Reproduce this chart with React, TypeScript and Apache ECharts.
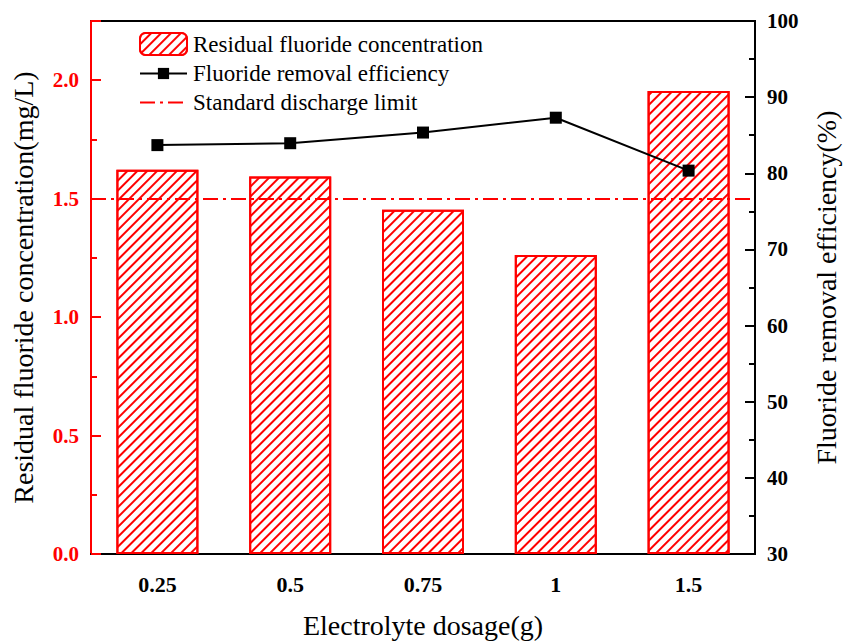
import React, { useEffect, useRef } from "react";
import * as echarts from "echarts";

const categories = ["0.25", "0.5", "0.75", "1", "1.5"];
const residualConcentration = [1.622, 1.594, 1.453, 1.262, 1.954];
const removalEfficiency = [83.7, 83.95, 85.35, 87.3, 80.35];
const dischargeLimit = 1.5;
const leftTicks = { min: 0, max: 2.25, interval: 0.5 };
const rightTicks = { min: 30, max: 100, interval: 10 };

const FONT = "'Liberation Serif', 'Times New Roman', serif";
const RED = "#ff0000";

export default function App() {
  const ref = useRef<HTMLDivElement>(null);
  useEffect(() => {
    if (!ref.current) return;
    const chart = echarts.init(ref.current, null, { renderer: "svg" });
    const dash = [15, 5, 3, 5];
    const legendText = { fontFamily: FONT, fontSize: 23, color: "#000", padding: [0, 0, 0, 1] };
    chart.setOption({
      animation: false,
      backgroundColor: "#fff",
      textStyle: { fontFamily: FONT },
      grid: {
        left: 91,
        right: 83,
        top: 21,
        bottom: 80,
        show: true,
        borderColor: "#000",
        borderWidth: 2,
        containLabel: false,
      },
      legend: [
        {
          orient: "vertical",
          left: 139,
          top: 32,
          padding: 0,
          itemWidth: 47,
          itemHeight: 22,
          textStyle: legendText,
          data: ["Residual fluoride concentration"],
        },
        {
          orient: "vertical",
          left: 139,
          top: 62,
          padding: 0,
          itemWidth: 47,
          itemHeight: 14,
          itemGap: 6,
          textStyle: legendText,
          data: [
            "Fluoride removal efficiency",
            { name: "Standard discharge limit", itemStyle: { opacity: 0 } },
          ],
        },
      ],
      xAxis: {
        type: "category",
        data: categories,
        axisLine: { lineStyle: { color: "#000", width: 2 } },
        axisTick: { show: false },
        axisLabel: {
          fontFamily: FONT,
          fontSize: 22,
          fontWeight: "bold",
          color: "#000",
          margin: 19,
        },
        name: "Electrolyte dosage(g)",
        nameLocation: "middle",
        nameGap: 57,
        nameTextStyle: { fontFamily: FONT, fontSize: 28, color: "#000" },
      },
      yAxis: [
        {
          type: "value",
          min: leftTicks.min,
          max: leftTicks.max,
          interval: leftTicks.interval,
          position: "left",
          axisLine: { show: true, lineStyle: { color: RED, width: 2 } },
          axisTick: { show: true, inside: true, length: 10, lineStyle: { color: RED, width: 2 } },
          minorTick: { show: true, splitNumber: 2, length: 6, lineStyle: { color: RED, width: 2 } },
          splitLine: { show: false },
          axisLabel: {
            fontFamily: FONT,
            fontSize: 21,
            fontWeight: "bold",
            color: RED,
            margin: 12,
            formatter: (v: number) => (v > 2.01 ? "" : v.toFixed(1)),
          },
          name: "Residual fluoride concentration(mg/L)",
          nameLocation: "middle",
          nameGap: 54,
          nameRotate: 90,
          nameTextStyle: { fontFamily: FONT, fontSize: 28, color: "#000" },
        },
        {
          type: "value",
          min: rightTicks.min,
          max: rightTicks.max,
          interval: rightTicks.interval,
          position: "right",
          axisLine: { show: true, lineStyle: { color: "#000", width: 2 } },
          axisTick: { show: true, inside: true, length: 10, lineStyle: { color: "#000", width: 2 } },
          minorTick: { show: true, splitNumber: 2, length: 6, lineStyle: { color: "#000", width: 2 } },
          splitLine: { show: false },
          axisLabel: {
            fontFamily: FONT,
            fontSize: 21,
            fontWeight: "bold",
            color: "#000",
            margin: 12,
          },
          name: "Fluoride removal efficiency(%)",
          nameLocation: "middle",
          nameGap: 57,
          nameRotate: 90,
          nameTextStyle: { fontFamily: FONT, fontSize: 28, color: "#000" },
        },
      ],
      series: [
        {
          name: "Residual fluoride concentration",
          type: "bar",
          yAxisIndex: 0,
          data: residualConcentration,
          barWidth: 82,
          itemStyle: {
            color: "#ffffff",
            borderColor: RED,
            borderWidth: 2,
            decal: {
              symbol: "rect",
              symbolSize: 1,
              color: RED,
              backgroundColor: "#ffffff",
              dashArrayX: [1, 0],
              dashArrayY: [2, 5],
              rotation: -Math.PI / 4,
            },
          },
        },
        {
          name: "Fluoride removal efficiency",
          type: "line",
          yAxisIndex: 1,
          data: removalEfficiency,
          symbol: "rect",
          symbolSize: 12,
          itemStyle: { color: "#000" },
          lineStyle: { color: "#000", width: 2 },
          z: 5,
        },
        {
          name: "Standard discharge limit",
          type: "line",
          yAxisIndex: 0,
          data: [],
          symbol: "none",
          itemStyle: { color: RED },
          lineStyle: { color: RED, width: 2, type: dash },
          markLine: {
            silent: true,
            symbol: "none",
            label: { show: false },
            lineStyle: { color: RED, width: 2, type: dash },
            data: [{ yAxis: dischargeLimit }],
          },
        },
      ],
    });
    return () => chart.dispose();
  }, []);
  return <div ref={ref} style={{ width: 848, height: 644, position: "absolute", left: 0, top: 0 }} />;
}
